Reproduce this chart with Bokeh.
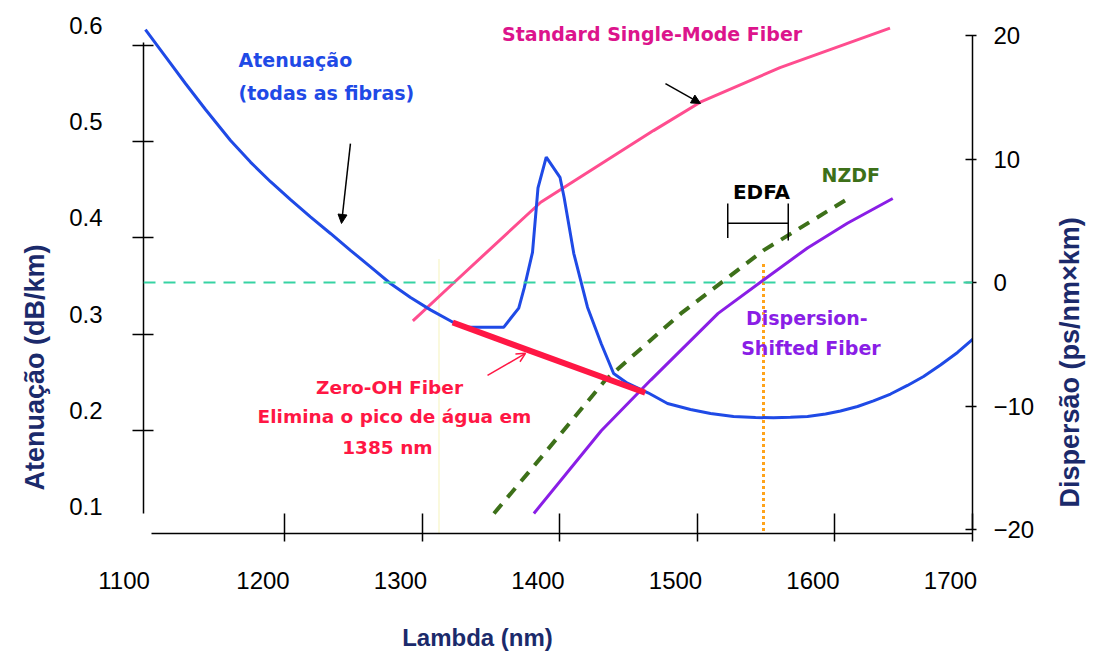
import math
from bokeh.plotting import figure
from bokeh.models import (Range1d, LinearAxis, FixedTicker, PrintfTickFormatter,
                          Span, Arrow, NormalHead, OpenHead)
from bokeh.core.properties import value
from bokeh.embed import file_html
from bokeh.resources import INLINE

# ---------------- data ----------------
wavelength_ticks = [1100, 1200, 1300, 1400, 1500, 1600, 1700]
wavelength_tick_marks = [1200, 1300, 1400, 1500, 1600, 1700]
atten_ticks = [0.1, 0.2, 0.3, 0.4, 0.5, 0.6]
atten_tick_marks = [0.2, 0.3, 0.4, 0.5, 0.6]
disp_ticks = [-20, -10, 0, 10, 20]

# attenuation, all fibres (left axis, dB/km)
atten_nm = [1098.5, 1113.1, 1127.6, 1142.2, 1160.4, 1174.9, 1189.5, 1204.0, 1218.5,
            1233.1, 1247.6, 1262.2, 1276.7, 1291.3, 1305.8, 1322.5, 1330, 1359, 1370,
            1374, 1380, 1384, 1390, 1400, 1403, 1410, 1420, 1430, 1439, 1449, 1464,
            1478.2, 1494.9, 1509.5, 1526.2, 1542.2, 1555.3, 1567.6, 1580.0, 1593.1,
            1604.0, 1616.4, 1628.0, 1640.4, 1652.7, 1664.4, 1676.7, 1689.1, 1700.7]
atten_db = [0.6166, 0.5884, 0.5605, 0.5335, 0.5012, 0.4788, 0.4584, 0.4397, 0.4218,
            0.4046, 0.3871, 0.3699, 0.3526, 0.3380, 0.3252, 0.3121, 0.307, 0.307, 0.327,
            0.348, 0.385, 0.452, 0.484, 0.463, 0.442, 0.384, 0.328, 0.290, 0.259, 0.249,
            0.239, 0.2279, 0.2216, 0.2175, 0.2144, 0.2133, 0.2130, 0.2135, 0.2144,
            0.2170, 0.2201, 0.2247, 0.2305, 0.2377, 0.2466, 0.2559, 0.2679, 0.2809,
            0.2954]

# dispersion curves (right axis, ps/nm x km)
smf_nm = [1293, 1322, 1386, 1468, 1502, 1560, 1640]
smf_disp = [-3.1, -0.1, 6.5, 12.3, 14.6, 17.4, 20.6]

nzdf_nm = [1352, 1386, 1433, 1488, 1548, 1611]
nzdf_disp = [-18.7, -14.2, -7.9, -2.5, 2.6, 6.9]

dsf_nm = [1381, 1430, 1466, 1515, 1548, 1580, 1609, 1642]
dsf_disp = [-18.7, -12.0, -7.9, -2.5, 0.2, 2.8, 4.8, 6.8]

# zero-OH fibre segment (left axis)
zero_oh_nm = [1322, 1462]
zero_oh_db = [0.312, 0.239]

# EDFA band and markers
edfa_band_nm = [1522, 1566]
edfa_level = 4.8
edfa_bracket_top = [6.4, 6.4]
edfa_bracket_bottom = [3.6, 3.4]
edfa_marker_nm = [1548]
edfa_marker_top = [1.5]
smf_zero_nm = [1312]
smf_zero_top = [1.9]

# axis titles
title_x = "Lambda (nm)"
title_left = "Atenuação (dB/km)"
title_right = "Dispersão (ps/nm×km)"

# ---------------- ranges ----------------
X_MAIN = (1097.1, 1700.0)
Y_ATT = (0.0927, 0.6260)
Y_DISP = (-20.324, 21.215)
Y_ATT_LAB = (0.0719, 0.6052)     # tick labels sit ~20px above their ticks
X_LAB = (1113.1, 1716.0)         # tick labels sit ~22px left of their ticks

# where the axis titles sit along their axes
TITLE_X_AT = 1340.0      # nm
TITLE_L_AT = 0.3931      # dB/km
TITLE_R_AT = -18.22      # ps/nm km
FIRST_LABEL_AT = 1113.5  # left edge of label range

BLUE = "#1f4ae6"
PINK = "#ff4d8f"
MAGENTA = "#dc148c"
PURPLE = "#8a1ee6"
GREEN = "#3d7019"
RED = "#ff1744"
TEAL = "#36d3a3"
ORANGE = "#ffa31a"
NAVY = "#1b2a6b"

p = figure(width=1103, height=655, output_backend="svg", toolbar_location=None,
           x_range=Range1d(*X_MAIN), y_range=Range1d(*Y_ATT),
           x_axis_location=None, y_axis_location=None,
           min_border_left=143, min_border_right=131, min_border_top=20,
           min_border_bottom=122,
           background_fill_color="white", border_fill_color="white",
           outline_line_color=None)
p.grid.visible = False

p.extra_y_ranges = {"disp": Range1d(*Y_DISP), "attlab": Range1d(*Y_ATT_LAB)}
p.extra_x_ranges = {"xlab": Range1d(*X_LAB)}

TICK_FONT = "Liberation Sans"


def hidden_axis(ax):
    ax.axis_line_color = None
    ax.major_tick_line_color = None
    ax.minor_tick_line_color = None
    ax.major_tick_in = 0
    ax.major_tick_out = 0
    return ax


def tick_only(ax):
    ax.major_label_text_color = None
    ax.major_label_text_alpha = 0
    ax.major_label_text_font_size = "1px"
    ax.major_label_standoff = 0
    ax.minor_tick_line_color = None
    ax.axis_line_width = 1.5
    ax.major_tick_line_width = 1.5
    return ax


def title_axis(at, text, orient, standoff, size, **kw):
    ax = LinearAxis(ticker=FixedTicker(ticks=[at]), major_label_overrides={at: text},
                    major_label_orientation=orient, major_label_standoff=standoff,
                    major_label_text_font=TICK_FONT, major_label_text_font_style="bold",
                    major_label_text_font_size=size, major_label_text_color=NAVY, **kw)
    return hidden_axis(ax)


# left: tick marks, offset labels, title
ax = tick_only(LinearAxis(ticker=FixedTicker(ticks=atten_tick_marks), bounds=(0.113, 0.603),
                          major_tick_in=10, major_tick_out=11))
p.add_layout(ax, "left")
ax = hidden_axis(LinearAxis(y_range_name="attlab", ticker=FixedTicker(ticks=atten_ticks),
                            bounds=(0.1, 0.6), formatter=PrintfTickFormatter(format="%.1f"),
                            major_label_standoff=30, major_label_text_font=TICK_FONT,
                            major_label_text_font_size="24px", major_label_text_color="black"))
p.add_layout(ax, "left")
p.add_layout(title_axis(TITLE_L_AT, title_left, math.pi / 2, 31, "27px"), "left")

# bottom: tick marks, offset labels, title
ax = tick_only(LinearAxis(ticker=FixedTicker(ticks=wavelength_tick_marks), bounds=(1103, 1700),
                          major_tick_in=20, major_tick_out=8))
p.add_layout(ax, "below")
first_label = str(wavelength_ticks[0]) + "\u00a0" * 6
ax = hidden_axis(LinearAxis(x_range_name="xlab",
                            ticker=FixedTicker(ticks=[FIRST_LABEL_AT] + wavelength_ticks[1:]),
                            major_label_overrides={FIRST_LABEL_AT: first_label},
                            formatter=PrintfTickFormatter(format="%d"),
                            major_label_standoff=25,
                            major_label_text_font=TICK_FONT, major_label_text_font_size="24px",
                            major_label_text_color="black"))
p.add_layout(ax, "below")
p.add_layout(title_axis(TITLE_X_AT, title_x, "horizontal", 27, "24px"), "below")

# right: ticks + labels, title
ax = LinearAxis(y_range_name="disp", ticker=FixedTicker(ticks=disp_ticks), bounds=(-20, 20),
                major_tick_in=7, major_tick_out=4, major_label_standoff=17,
                major_label_text_font=TICK_FONT, major_label_text_font_size="24px",
                major_label_text_color="black", axis_line_width=1.5,
                major_tick_line_width=1.5, minor_tick_line_color=None)
p.add_layout(ax, "right")
p.add_layout(title_axis(TITLE_R_AT, title_right, math.pi / 2, 33, "27px",
                        y_range_name="disp"), "right")

# ---------------- reference lines ----------------
p.add_layout(Span(location=0, dimension="width", y_range_name="disp",
                  line_color=TEAL, line_width=2, line_dash="12 8"))
disp_bottom = Y_DISP[0]
p.segment(x0=smf_zero_nm, y0=smf_zero_top, x1=smf_zero_nm, y1=[disp_bottom],
          y_range_name="disp", line_color="#f7f5c8", line_width=1.2)
p.segment(x0=edfa_marker_nm, y0=edfa_marker_top, x1=edfa_marker_nm, y1=[disp_bottom],
          y_range_name="disp", line_color=ORANGE, line_width=3, line_dash="3 3")

# ---------------- curves ----------------
p.line(smf_nm, smf_disp, y_range_name="disp", line_color=PINK, line_width=3)
p.line(atten_nm, atten_db, line_color=BLUE, line_width=3)
p.line(nzdf_nm, nzdf_disp, y_range_name="disp", line_color=GREEN, line_width=4,
       line_dash="12 9")
p.line(dsf_nm, dsf_disp, y_range_name="disp", line_color=PURPLE, line_width=3)
p.line(zero_oh_nm, zero_oh_db, line_color=RED, line_width=6)

# EDFA bracket
p.segment(x0=[edfa_band_nm[0]], y0=[edfa_level], x1=[edfa_band_nm[1]], y1=[edfa_level],
          y_range_name="disp", line_color="black", line_width=1.5)
p.segment(x0=edfa_band_nm, y0=edfa_bracket_top, x1=edfa_band_nm, y1=edfa_bracket_bottom,
          y_range_name="disp", line_color="black", line_width=1.5)

# ---------------- arrows ----------------
p.add_layout(Arrow(end=NormalHead(size=9, fill_color="black", line_color="black"),
                   x_start=1247.6, y_start=0.498, x_end=1241.1, y_end=0.415,
                   line_color="black", line_width=1.5))
p.add_layout(Arrow(end=NormalHead(size=9, fill_color="black", line_color="black"),
                   x_start=1476.7, y_start=16.1, x_end=1502.2, y_end=14.5,
                   y_range_name="disp", line_color="black", line_width=1.5))
p.add_layout(Arrow(end=OpenHead(size=9, line_color=RED, line_width=1.5),
                   x_start=1347.3, y_start=0.257, x_end=1374.9, y_end=0.280,
                   line_color=RED, line_width=1.5))

# ---------------- texts ----------------
ANN_FONT = value("DejaVu Sans")
p.text(x=[1166.2, 1166.2], y=[0.5854, 0.5511], text=["Atenuação", "(todas as fibras)"],
       text_font=ANN_FONT, text_font_style="bold", text_font_size="19px",
       text_color=BLUE, text_align="left", text_baseline="middle")
p.text(x=[1467.0], y=[20.1], text=["Standard Single-Mode Fiber"],
       y_range_name="disp", text_font=ANN_FONT, text_font_style="bold",
       text_font_size="19px", text_color=MAGENTA, text_align="center",
       text_baseline="middle")
p.text(x=[1276.0, 1279.6, 1274.5], y=[0.2445, 0.2143, 0.1821],
       text=["Zero-OH Fiber", "Elimina o pico de água em", "1385 nm"],
       text_font=ANN_FONT, text_font_style="bold", text_font_size="18.5px",
       text_color=RED, text_align="center", text_baseline="middle")
p.text(x=[1546.5], y=[7.3], text=["EDFA"], y_range_name="disp",
       text_font=ANN_FONT, text_font_style="bold", text_font_size="20px",
       text_color="black", text_align="center", text_baseline="middle")
p.text(x=[1611.5], y=[8.7], text=["NZDF"], y_range_name="disp",
       text_font=ANN_FONT, text_font_style="bold", text_font_size="19px",
       text_color=GREEN, text_align="center", text_baseline="middle")
p.text(x=[1579.5, 1582.5], y=[-2.9, -5.3], text=["Dispersion-", "Shifted Fiber"],
       y_range_name="disp", text_font=ANN_FONT, text_font_style="bold",
       text_font_size="19px", text_color=PURPLE, text_align="center",
       text_baseline="middle")

open("out.html", "w").write(file_html(p, INLINE))
